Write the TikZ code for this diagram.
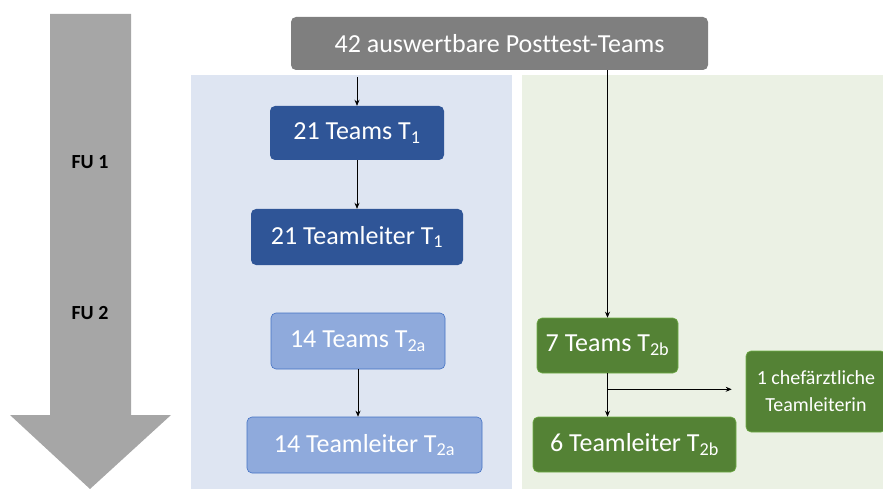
\documentclass[tikz,border=0pt]{standalone}
\usepackage{fontspec}
\setmainfont{Carlito}[Ligatures=NoCommon]
\usetikzlibrary{arrows.meta}
\definecolor{topgray}{HTML}{7F7F7F}
\definecolor{flowgray}{HTML}{A6A6A6}
\definecolor{bluepanel}{HTML}{DEE5F2}
\definecolor{greenpanel}{HTML}{EBF1E4}
\definecolor{darkblue}{HTML}{2F5597}
\definecolor{lightblue}{HTML}{8FAADC}
\definecolor{lightblueedge}{HTML}{4472C4}
\definecolor{boxgreen}{HTML}{548235}
\definecolor{boxgreenedge}{HTML}{70AD47}
\tikzset{
  box/.style={rectangle, rounded corners=5pt, text=white, inner sep=0pt,
    font=\fontsize{26}{30}\selectfont, align=center},
  dbox/.style={box, fill=darkblue},
  lbox/.style={box, fill=lightblue, draw=lightblueedge, line width=0.6pt},
  gbox/.style={box, fill=boxgreen, draw=boxgreenedge, line width=0.6pt},
  flow/.style={-{Stealth[length=6pt,width=5pt]}, line width=0.7pt, black},
  fu/.style={font=\bfseries\fontsize{20}{24}\selectfont, text=black}
}
\begin{document}
\begin{tikzpicture}[x=1pt,y=-1pt]
\useasboundingbox (0,0) rectangle (883,489);
% time axis arrow
\fill[flowgray] (50,14) -- (131,14) -- (131,415) -- (171,415) -- (90,489)
  -- (10,415) -- (50,415) -- cycle;
\node[fu] (fu1) at (90,162) {FU 1};
\node[fu] (fu2) at (90,313) {FU 2};
% group panels
\fill[bluepanel] (191,75) rectangle (512,489);
\fill[greenpanel] (522,75) rectangle (883,489);
% boxes
\node[box, fill=topgray, minimum width=417pt, minimum height=53pt] (top) at (499.5,43.5) {42 auswertbare Posttest-Teams};
\node[dbox, minimum width=174pt, minimum height=54pt] (t1) at (357,133) {21 Teams T\textsubscript{1}};
\node[dbox, minimum width=212pt, minimum height=56pt] (tl1) at (357,237) {21 Teamleiter T\textsubscript{1}};
\node[lbox, minimum width=174pt, minimum height=56pt] (t2a) at (358,341) {14 Teams T\textsubscript{2a}};
\node[lbox, minimum width=235pt, minimum height=56pt] (tl2a) at (364.5,445) {14 Teamleiter T\textsubscript{2a}};
\node[gbox, minimum width=141pt, minimum height=55pt] (t2b) at (607.5,345.5) {7 Teams T\textsubscript{2b}};
\node[gbox, minimum width=203pt, minimum height=55pt] (tl2b) at (634.5,444.5) {6 Teamleiter T\textsubscript{2b}};
\node[gbox, minimum width=140pt, minimum height=81pt, font=\fontsize{20}{27}\selectfont] (chef) at (816,391.5) {1 chefärztliche\\Teamleiterin};
% connectors
\draw[flow] ([yshift=-7pt]top.south -| t1.north) -- (t1.north);
\draw[flow] (t1.south -| tl1.north) -- (tl1.north);
\draw[flow] (t2a.south) -- (t2a.south |- tl2a.north);
\draw[flow] (top.south -| t2b.north) -- (t2b.north);
\draw[flow] (t2b.south) -- (t2b.south |- tl2b.north);
\coordinate (br) at ([yshift=-16pt]t2b.south);
\draw[flow, shorten >=14pt] (br) -- (br -| chef.west);
\end{tikzpicture}
\end{document}
